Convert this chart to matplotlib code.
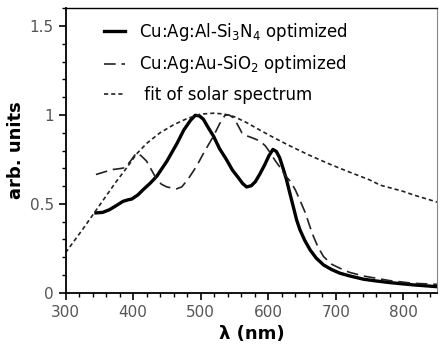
import numpy as np
import matplotlib
matplotlib.use("Agg")
import matplotlib.pyplot as plt
from matplotlib.ticker import MultipleLocator

# ---------------- data ----------------

# Cu:Ag:Al-Si3N4 optimized
al_wl = [345, 355, 365, 375, 385, 392, 398, 407, 415, 425, 435, 450, 465, 475,
         485, 492, 498, 504, 511, 519, 528, 538, 547, 556, 562, 568, 575, 581,
         588, 595, 601, 607, 612, 617, 622, 627, 632, 637, 642, 647, 654, 662,
         671, 682, 694, 706, 720, 741, 760, 780, 815, 850]
al_val = [0.449, 0.452, 0.467, 0.49, 0.514, 0.522, 0.527, 0.55, 0.58, 0.615,
          0.655, 0.74, 0.84, 0.915, 0.97, 0.998, 0.995, 0.976, 0.93, 0.881,
          0.81, 0.75, 0.69, 0.646, 0.615, 0.595, 0.602, 0.625, 0.67, 0.721,
          0.77, 0.806, 0.795, 0.759, 0.70, 0.637, 0.56, 0.486, 0.41, 0.354,
          0.295, 0.241, 0.195, 0.156, 0.13, 0.11, 0.095, 0.076, 0.066, 0.057,
          0.044, 0.034]

# Cu:Ag:Au-SiO2 optimized
au_wl = [345, 358, 370, 380, 388, 396, 405, 412, 420, 428, 435, 442, 450, 464,
         472, 481, 494, 505, 519, 528, 536, 542, 548, 554, 561, 568, 576, 588,
         596, 603, 610, 618, 625, 632, 640, 647, 655, 661, 667, 674, 682, 694,
         706, 720, 741, 780, 815, 850]
au_val = [0.665, 0.68, 0.693, 0.698, 0.703, 0.74, 0.787, 0.77, 0.74, 0.685,
          0.637, 0.61, 0.595, 0.584, 0.595, 0.637, 0.712, 0.79, 0.881, 0.95,
          0.998, 1.0, 0.985, 0.95, 0.90, 0.883, 0.872, 0.853, 0.825, 0.787,
          0.745, 0.703, 0.66, 0.63, 0.58, 0.52, 0.449, 0.38, 0.316, 0.255,
          0.203, 0.16, 0.138, 0.115, 0.094, 0.068, 0.053, 0.047]

# fit of solar spectrum
sun_wl = [300, 325, 350, 375, 390, 405, 420, 440, 460, 480, 500, 520, 535, 550,
          568, 590, 607, 630, 660, 690, 716, 750, 766, 800, 815, 850]
sun_val = [0.225, 0.355, 0.49, 0.625, 0.70, 0.78, 0.84, 0.90, 0.945, 0.98,
           1.005, 1.01, 1.005, 0.99, 0.957, 0.91, 0.875, 0.83, 0.775, 0.725,
           0.685, 0.635, 0.605, 0.57, 0.55, 0.51]

labels = ["Cu:Ag:Al-Si$_3$N$_4$ optimized",
          "Cu:Ag:Au-SiO$_2$ optimized",
          " fit of solar spectrum"]

# ---------------- plot ----------------

fig = plt.figure(figsize=(4.46, 3.46), dpi=100)
ax = fig.add_axes([0.147, 0.154, 0.833, 0.822])

ax.plot(al_wl, al_val, color="black", lw=2.4, label=labels[0])
ax.plot(au_wl, au_val, color="#222222", lw=1.2, dashes=(7, 3.5), label=labels[1])
ax.plot(sun_wl, sun_val, color="#222222", lw=1.2, dashes=(2.5, 1.8), label=labels[2])

ax.set_xlim(300, 850)
ax.set_ylim(0, 1.6)
ax.xaxis.set_major_locator(MultipleLocator(100))
ax.xaxis.set_minor_locator(MultipleLocator(20))
ax.yaxis.set_minor_locator(MultipleLocator(0.1))
ax.set_yticks([0, 0.5, 1, 1.5])
ax.set_yticklabels(["0", "0.5", "1", "1.5"])

ax.tick_params(which="major", length=5, width=1.2, labelsize=11, labelcolor="#555555")
ax.tick_params(which="minor", length=3, width=1.0)
ax.spines["right"].set_color("#888888")
ax.spines["top"].set_linewidth(1.0)
ax.spines["left"].set_linewidth(1.3)
ax.spines["bottom"].set_linewidth(1.3)

ax.set_xlabel("λ (nm)", fontsize=13, fontweight="bold", labelpad=4)
ax.set_ylabel("arb. units", fontsize=13, fontweight="bold", labelpad=3)

ax.legend(loc="upper left", bbox_to_anchor=(0.062, 1.008), frameon=False,
          fontsize=12, handlelength=1.3, labelspacing=0.62, handletextpad=0.8)

fig.savefig("out.png", dpi=100)
